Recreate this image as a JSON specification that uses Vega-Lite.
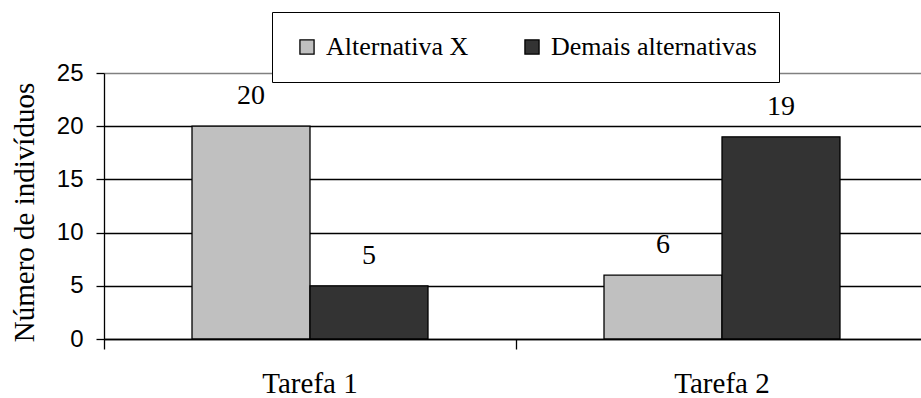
{
  "$schema": "https://vega.github.io/schema/vega-lite/v6.json",
  "width": 817,
  "height": 266,
  "autosize": {"type": "none"},
  "padding": {"left": 104, "top": 73, "right": 0, "bottom": 59},
  "background": "white",
  "config": {
    "view": {"stroke": null},
    "axis": {"domainColor": "black", "tickColor": "black", "labelColor": "black", "titleColor": "black"}
  },
  "data": {
    "values": [
      {"tarefa": "Tarefa 1", "serie": "Alternativa X", "n": 20},
      {"tarefa": "Tarefa 1", "serie": "Demais alternativas", "n": 5},
      {"tarefa": "Tarefa 2", "serie": "Alternativa X", "n": 6},
      {"tarefa": "Tarefa 2", "serie": "Demais alternativas", "n": 19}
    ]
  },
  "encoding": {
    "x": {
      "field": "tarefa",
      "type": "nominal",
      "scale": {"range": [0, 824], "paddingInner": 0, "paddingOuter": 0},
      "axis": {
        "title": null,
        "bandPosition": 0,
        "labelAngle": 0,
        "labelAlign": "center",
        "labelBaseline": "top",
        "labelPadding": 20,
        "labelFont": "Liberation Serif",
        "labelFontSize": 29,
        "labelOverlap": false,
        "labelBound": false,
        "labelFlush": false,
        "tickSize": 10,
        "tickWidth": 1.3,
        "domainWidth": 1.3,
        "grid": false
      }
    },
    "xOffset": {
      "field": "serie",
      "type": "nominal",
      "sort": ["Alternativa X", "Demais alternativas"],
      "scale": {"paddingInner": 0, "paddingOuter": 0.7458}
    },
    "y": {
      "field": "n",
      "type": "quantitative",
      "scale": {"domain": [0, 25], "nice": false},
      "axis": {
        "title": "Número de indivíduos",
        "titleFont": "Liberation Serif",
        "titleFontSize": 29,
        "titleFontWeight": "normal",
        "titleAngle": -90,
        "titleBaseline": "alphabetic",
        "titleAlign": "center",
        "titleX": -71,
        "titleY": 139,
        "values": [0, 5, 10, 15, 20, 25],
        "labelFont": "Liberation Sans",
        "labelFontSize": 24,
        "labelPadding": 13,
        "tickSize": 8,
        "tickWidth": 1.3,
        "domainWidth": 1.3,
        "grid": true,
        "gridWidth": 1.3,
        "gridColor": {"condition": {"test": "datum.value === 25", "value": "#808080"}, "value": "black"},
        "gridOpacity": 1
      }
    }
  },
  "layer": [
    {
      "mark": {"type": "bar", "stroke": "black", "strokeWidth": 1.3},
      "encoding": {
        "color": {
          "field": "serie",
          "type": "nominal",
          "sort": ["Alternativa X", "Demais alternativas"],
          "scale": {"domain": ["Alternativa X", "Demais alternativas"], "range": ["#c0c0c0", "#333333"]},
          "legend": {
            "title": null,
            "orient": "none",
            "direction": "horizontal",
            "legendX": 168,
            "legendY": -61,
            "padding": 22,
            "fillColor": "white",
            "strokeColor": "black",
            "symbolType": "square",
            "symbolSize": 200,
            "symbolStrokeColor": "black",
            "symbolStrokeWidth": 1.3,
            "symbolOpacity": 1,
            "labelFont": "Liberation Serif",
            "labelFontSize": 26,
            "labelColor": "black",
            "labelOffset": 6,
            "labelLimit": 400,
            "columnPadding": 50
          }
        }
      }
    },
    {
      "mark": {"type": "text", "font": "Liberation Serif", "fontSize": 28, "color": "black", "baseline": "alphabetic", "dy": -22},
      "encoding": {"text": {"field": "n", "type": "quantitative"}}
    }
  ]
}
